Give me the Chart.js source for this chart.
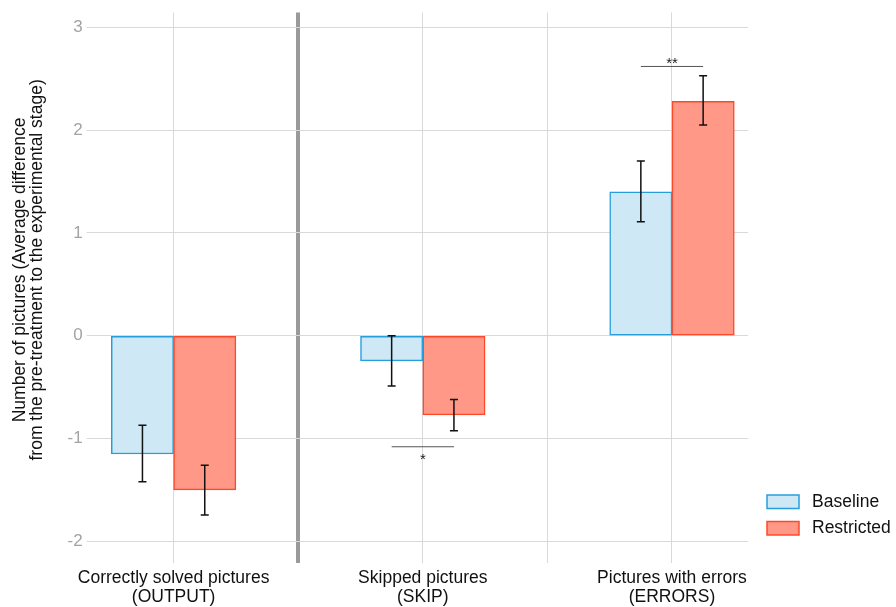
<!DOCTYPE html>
<html><head><meta charset="utf-8">
<script src="https://cdn.jsdelivr.net/npm/chart.js@4"></script>
<style>html,body{margin:0;padding:0;background:#fff}canvas{display:block}</style>
</head><body>
<canvas id="c" width="896" height="607"></canvas>
<script>
const categories = [['Correctly solved pictures','(OUTPUT)'],['Skipped pictures','(SKIP)'],['Pictures with errors','(ERRORS)']];
const seriesNames = ['Baseline','Restricted'];
const baselineMeans = [-1.15, -0.245, 1.40];
const restrictedMeans = [-1.50, -0.77, 2.28];
const baselineLow = [-1.42, -0.49, 1.11];
const baselineHigh = [-0.87, 0.0, 1.70];
const restrictedLow = [-1.745, -0.925, 2.05];
const restrictedHigh = [-1.26, -0.62, 2.53];
const sigMarks = ['', '*', '**'];
const sigLevels = [null, -1.08, 2.62];
const yTicks = [-2, -1, 0, 1, 2, 3];
const yAxisTitle = ['Number of pictures (Average difference', 'from the pre-treatment to the experimental stage)'];

const FONT = "'Liberation Sans', Arial, Helvetica, sans-serif";
const catPos = categories.map((_, i) => i + 1);
const separatorPos = 1.5;
const xTickValues = [1, 1.5, 2, 2.5, 3];
const TITLE_SIZE = 17.5, TITLE_LH = 17;

const errorBarPlugin = {
  id: 'errbars',
  afterDatasetsDraw(chart) {
    const ctx = chart.ctx, ys = chart.scales.y;
    const lows = [baselineLow, restrictedLow], highs = [baselineHigh, restrictedHigh];
    ctx.save();
    ctx.strokeStyle = '#111';
    ctx.lineWidth = 1.5;
    chart.data.datasets.forEach((ds, i) => {
      chart.getDatasetMeta(i).data.forEach((el, j) => {
        const x = el.x, y1 = ys.getPixelForValue(lows[i][j]), y2 = ys.getPixelForValue(highs[i][j]);
        ctx.beginPath();
        ctx.moveTo(x, y1); ctx.lineTo(x, y2);
        ctx.moveTo(x - 4, y1); ctx.lineTo(x + 4, y1);
        ctx.moveTo(x - 4, y2); ctx.lineTo(x + 4, y2);
        ctx.stroke();
      });
    });
    const m0 = chart.getDatasetMeta(0).data, m1 = chart.getDatasetMeta(1).data;
    ctx.font = '15px ' + FONT;
    ctx.fillStyle = '#222';
    ctx.textAlign = 'center';
    ctx.textBaseline = 'alphabetic';
    sigLevels.forEach((lv, j) => {
      if (lv === null) return;
      const y = ys.getPixelForValue(lv);
      const xa = m0[j].x, xb = m1[j].x;
      ctx.strokeStyle = '#555'; ctx.lineWidth = 1;
      ctx.beginPath(); ctx.moveTo(xa, y); ctx.lineTo(xb, y); ctx.stroke();
      const cx = (xa + xb) / 2;
      if (lv < 0) ctx.fillText(sigMarks[j], cx, y + 17);
      else ctx.fillText(sigMarks[j], cx, y + 1.5);
    });
    ctx.restore();
  },
  afterDraw(chart) {
    const ctx = chart.ctx, ys = chart.scales.y, area = chart.chartArea;
    // y-axis title in the space reserved by the (transparent) scale title
    const cy = area.top + (area.bottom - area.top) * 0.468;
    ctx.save();
    ctx.fillStyle = '#111';
    ctx.font = TITLE_SIZE + 'px ' + FONT;
    ctx.textAlign = 'center';
    ctx.textBaseline = 'middle';
    yAxisTitle.forEach((line, k) => {
      const x = ys.left + 10.5 + TITLE_LH * (k + 0.5);
      ctx.save();
      ctx.translate(x, cy);
      ctx.rotate(-Math.PI / 2);
      ctx.fillText(line, 0, 0);
      ctx.restore();
    });
    // legend (bottom right, outside the plot)
    const lx = area.right + 19, ly0 = area.bottom - 67.5, step = 26.5;
    ctx.textAlign = 'left';
    ctx.font = '17.5px ' + FONT;
    chart.data.datasets.forEach((ds, i) => {
      const y = ly0 + i * step;
      ctx.fillStyle = ds.backgroundColor;
      ctx.fillRect(lx, y, 32, 13.5);
      ctx.strokeStyle = ds.borderColor;
      ctx.lineWidth = 1.5;
      ctx.strokeRect(lx, y, 32, 13.5);
      ctx.fillStyle = '#111';
      ctx.fillText(ds.label, lx + 45, y + 7);
    });
    ctx.restore();
  }
};

new Chart(document.getElementById('c'), {
  type: 'bar',
  data: {
    datasets: [
      { label: seriesNames[0], data: catPos.map((x, i) => ({x, y: baselineMeans[i]})),
        backgroundColor: 'rgb(206,232,246)', borderColor: 'rgb(38,158,220)', borderWidth: 1.5, borderSkipped: false },
      { label: seriesNames[1], data: catPos.map((x, i) => ({x, y: restrictedMeans[i]})),
        backgroundColor: 'rgb(255,152,134)', borderColor: 'rgb(255,72,40)', borderWidth: 1.5, borderSkipped: false }
    ]
  },
  options: {
    responsive: false,
    animation: false,
    devicePixelRatio: 1,
    categoryPercentage: 1.0,
    barPercentage: 1.0,
    layout: { padding: { top: 1.5, right: 148, left: 1.5, bottom: -6 } },
    plugins: {
      legend: { display: false },
      tooltip: { enabled: false }
    },
    scales: {
      x: {
        type: 'linear',
        offset: false,
        min: 0.663, max: 3.305,
        afterBuildTicks: s => { s.ticks = xTickValues.map(v => ({value: v})); },
        border: { display: false },
        grid: {
          offset: false,
          drawTicks: false,
          color: c => c.tick && c.tick.value === separatorPos ? '#9a9a9a' : '#d9d9d9',
          lineWidth: c => c.tick && c.tick.value === separatorPos ? 4 : 1
        },
        ticks: {
          autoSkip: false, maxRotation: 0, padding: 6,
          color: '#111', font: { family: FONT, size: 17.5, lineHeight: 1.1 },
          callback: v => { const i = catPos.indexOf(v); return i >= 0 ? categories[i] : ''; }
        }
      },
      y: {
        min: -2.206, max: 3.145,
        afterBuildTicks: s => { s.ticks = yTicks.map(v => ({value: v})); },
        border: { display: false },
        grid: { color: '#d9d9d9', lineWidth: 1, tickLength: 3, tickColor: '#d9d9d9' },
        ticks: { padding: 4, color: '#a3a3a3', font: { family: FONT, size: 17, lineHeight: 1.0 } },
        title: {
          display: true, text: yAxisTitle, color: 'rgba(0,0,0,0)',
          font: { family: FONT, size: TITLE_SIZE, lineHeight: TITLE_LH / TITLE_SIZE }, padding: { top: 10, bottom: 18 }
        }
      }
    }
  },
  plugins: [errorBarPlugin]
});
</script>
</body></html>
